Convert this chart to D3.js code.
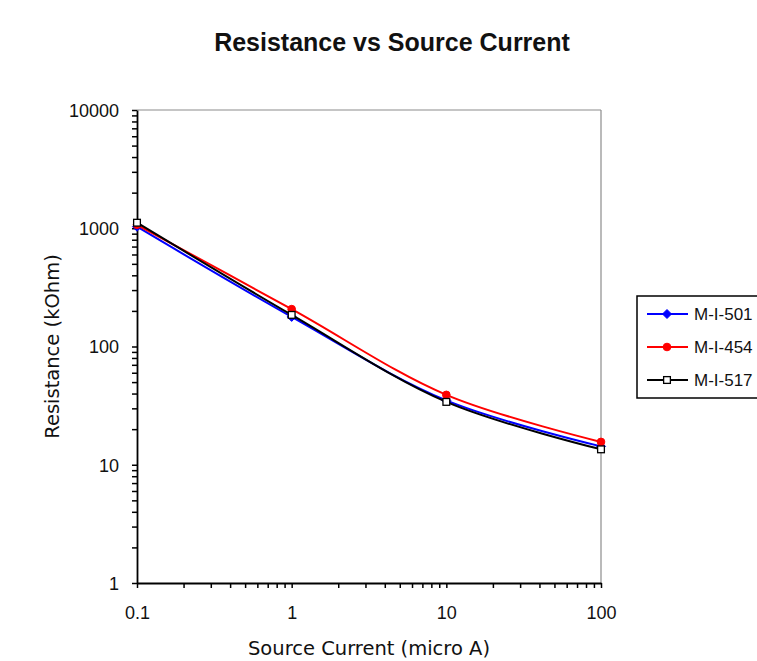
<!DOCTYPE html>
<html>
<head>
<meta charset="utf-8">
<script src="https://cdn.jsdelivr.net/npm/d3@7"></script>
<style>
  html, body { margin: 0; padding: 0; background: #fff; }
  svg { display: block; }
</style>
</head>
<body>
<svg id="chart" width="757" height="661"></svg>
<script>
// Source current (micro A) at which each sample was measured
const currents = [0.1, 1, 10, 100];

// Resistance (kOhm) per sample
const seriesNames = ["M-I-501", "M-I-454", "M-I-517"];
const m501 = [1030, 178, 35, 14.3];
const m454 = [1070, 207, 39, 15.6];
const m517 = [1114, 185, 34, 13.5];

// Axis tick labels
const xTickLabels = ["0.1", "1", "10", "100"];
const yTickLabels = ["1", "10", "100", "1000", "10000"];

const seriesValues = [m501, m454, m517];
const seriesColors = ["#0000ff", "#ff0000", "#000000"];
const seriesMarkers = ["diamond", "circle", "square"];

const svg = d3.select("#chart");

const plot = { left: 137, right: 601, top: 110, bottom: 583 };

const x = d3.scaleLog().domain([+xTickLabels[0], +xTickLabels[xTickLabels.length - 1]])
  .range([plot.left, plot.right]);
const y = d3.scaleLog().domain([+yTickLabels[0], +yTickLabels[yTickLabels.length - 1]])
  .range([plot.bottom, plot.top]);

// every 1..9 multiple of each decade inside the domain
function logTicks(domain) {
  const out = [];
  const lo = Math.round(Math.log10(domain[0]));
  const hi = Math.round(Math.log10(domain[1]));
  for (let e = lo; e <= hi; e++) {
    for (let m = 1; m <= 9; m++) {
      const v = m * Math.pow(10, e);
      if (v <= domain[1] * 1.0001) out.push(+v.toPrecision(6));
      if (e === hi) break;
    }
  }
  return out;
}

// gray frame on the top and right sides
svg.append("line")
  .attr("x1", plot.left).attr("x2", plot.right)
  .attr("y1", plot.top).attr("y2", plot.top)
  .attr("stroke", "#8c8c8c").attr("stroke-width", 1.2);
svg.append("line")
  .attr("x1", plot.right).attr("x2", plot.right)
  .attr("y1", plot.top).attr("y2", plot.bottom)
  .attr("stroke", "#8c8c8c").attr("stroke-width", 1.2);

const xTickFmt = v => {
  const i = xTickLabels.findIndex(t => Math.abs(+t - v) < 1e-9);
  return i >= 0 ? xTickLabels[i] : "";
};
const yTickFmt = v => {
  const i = yTickLabels.findIndex(t => Math.abs(+t - v) < 1e-9);
  return i >= 0 ? yTickLabels[i] : "";
};

const xAxis = svg.append("g")
  .attr("transform", `translate(0,${plot.bottom})`)
  .call(d3.axisBottom(x).tickValues(logTicks(x.domain())).tickFormat(xTickFmt)
    .tickSize(5).tickSizeOuter(0));
xAxis.selectAll("text")
  .attr("y", 36).attr("dy", 0)
  .attr("font-family", "'Liberation Sans', Arial, sans-serif")
  .attr("font-size", 18).attr("fill", "#111");

const yAxis = svg.append("g")
  .attr("transform", `translate(${plot.left},0)`)
  .call(d3.axisLeft(y).tickValues(logTicks(y.domain())).tickFormat(yTickFmt)
    .tickSize(5).tickSizeOuter(0));
yAxis.selectAll("text")
  .attr("x", -18).attr("dy", "0.36em")
  .attr("font-family", "'Liberation Sans', Arial, sans-serif")
  .attr("font-size", 18).attr("fill", "#111");

[xAxis, yAxis].forEach(a => {
  a.select(".domain").attr("stroke", "#000").attr("stroke-width", 1.8);
  a.selectAll(".tick line").attr("stroke", "#000").attr("stroke-width", 1.5);
});

// smoothed series lines
const line = d3.line()
  .x(d => x(d[0]))
  .y(d => y(d[1]))
  .curve(d3.curveCatmullRom.alpha(0.5));

function drawMarker(g, kind, cx, cy, color, s) {
  if (kind === "diamond") {
    g.append("path")
      .attr("d", `M${cx},${cy - s}L${cx + s},${cy}L${cx},${cy + s}L${cx - s},${cy}Z`)
      .attr("fill", color).attr("stroke", color).attr("stroke-width", 1);
  } else if (kind === "circle") {
    g.append("circle").attr("cx", cx).attr("cy", cy).attr("r", s * 0.85)
      .attr("fill", color).attr("stroke", color).attr("stroke-width", 1);
  } else {
    g.append("rect").attr("x", cx - s * 0.75).attr("y", cy - s * 0.75)
      .attr("width", s * 1.5).attr("height", s * 1.5)
      .attr("fill", "#fff").attr("stroke", color).attr("stroke-width", 1.3);
  }
}

seriesValues.forEach((vals, i) => {
  const pts = currents.map((c, j) => [c, vals[j]]);
  const g = svg.append("g");
  g.append("path").datum(pts)
    .attr("d", line)
    .attr("fill", "none")
    .attr("stroke", seriesColors[i])
    .attr("stroke-width", 2);
  pts.forEach(p => drawMarker(g, seriesMarkers[i], x(p[0]), y(p[1]), seriesColors[i], 4.5));
});

// title
svg.append("text")
  .attr("x", 392).attr("y", 51)
  .attr("text-anchor", "middle")
  .attr("font-family", "'Liberation Sans', Arial, sans-serif")
  .attr("font-weight", "bold")
  .attr("font-size", 25)
  .attr("fill", "#111")
  .text("Resistance vs Source Current");

// axis titles
svg.append("text")
  .attr("x", (plot.left + plot.right) / 2).attr("y", 655)
  .attr("text-anchor", "middle")
  .attr("font-family", "'DejaVu Sans', Verdana, sans-serif")
  .attr("font-size", 19.5)
  .attr("fill", "#111")
  .text("Source Current (micro A)");

svg.append("text")
  .attr("transform", `translate(52,${(plot.top + plot.bottom) / 2}) rotate(-90)`)
  .attr("text-anchor", "middle")
  .attr("dy", "0.35em")
  .attr("font-family", "'DejaVu Sans', Verdana, sans-serif")
  .attr("font-size", 19.5)
  .attr("fill", "#111")
  .text("Resistance (kOhm)");

// legend (box runs past the right edge of the drawing)
const legend = svg.append("g").attr("transform", "translate(637,296)");
legend.append("rect")
  .attr("x", 0).attr("y", 0).attr("width", 140).attr("height", 102)
  .attr("fill", "#fff").attr("stroke", "#000").attr("stroke-width", 1.5);
seriesNames.forEach((name, i) => {
  const ly = 18 + i * 33;
  legend.append("line")
    .attr("x1", 10).attr("x2", 51).attr("y1", ly).attr("y2", ly)
    .attr("stroke", seriesColors[i]).attr("stroke-width", 2);
  drawMarker(legend, seriesMarkers[i], 30, ly, seriesColors[i], 4.5);
  legend.append("text")
    .attr("x", 57).attr("y", ly).attr("dy", "0.36em")
    .attr("font-family", "'Liberation Sans', Arial, sans-serif")
    .attr("font-size", 17)
    .attr("fill", "#111")
    .text(name);
});
</script>
</body>
</html>
